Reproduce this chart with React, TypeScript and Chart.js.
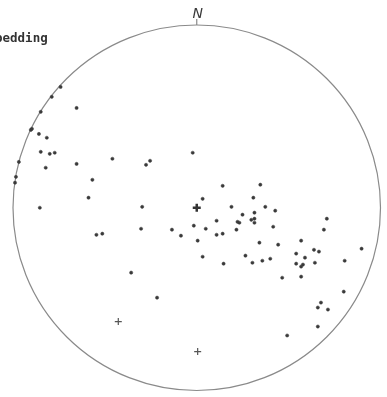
import React, { useEffect, useRef } from "react";
import { Chart, registerables } from "chart.js";

Chart.register(...registerables);

// Projected pole positions (unit-radius stereonet coordinates)
const poleX = [
  -0.741, -0.789, -0.849, -0.903, -0.897, -0.654, -0.859, -0.816, -0.849, -0.8,
  -0.773, -0.968, -0.822, -0.654, -0.459, -0.984, -0.989, -0.568, -0.589, -0.854,
  -0.254, -0.276, -0.022, 0.141, 0.032, -0.297, 0.189, 0.108, 0.222, 0.232,
  -0.303, -0.135, -0.016, 0.049, -0.514, -0.546, -0.086, 0.108, 0.141, 0.216,
  0.005, 0.032, 0.146, 0.346, 0.308, 0.373, 0.427, 0.249, 0.314, 0.297,
  0.314, 0.314, 0.416, 0.708, 0.692, 0.341, 0.443, 0.568, 0.265, 0.303,
  0.357, 0.4, 0.541, 0.638, 0.665, 0.589, 0.541, 0.568, 0.578, 0.643,
  0.568, 0.465, 0.805, 0.897, 0.8, 0.676, 0.659, 0.714, 0.659, 0.492,
  -0.357, -0.216,
];
const poleY = [
  0.661, 0.607, 0.525, 0.426, 0.432, 0.546, 0.404, 0.383, 0.306, 0.295,
  0.301, 0.251, 0.219, 0.24, 0.268, 0.169, 0.137, 0.153, 0.055, 0.0,
  0.257, 0.235, 0.301, 0.12, 0.049, 0.005, 0.005, -0.071, -0.077, -0.082,
  -0.115, -0.12, -0.098, -0.115, -0.142, -0.148, -0.153, -0.148, -0.142, -0.12,
  -0.18, -0.268, -0.306, 0.126, 0.055, 0.005, -0.016, -0.038, -0.027, -0.066,
  -0.06, -0.082, -0.104, -0.06, -0.12, -0.191, -0.202, -0.18, -0.262, -0.301,
  -0.29, -0.279, -0.251, -0.23, -0.24, -0.273, -0.306, -0.322, -0.311, -0.301,
  -0.377, -0.383, -0.29, -0.224, -0.459, -0.519, -0.546, -0.557, -0.65, -0.699,
  -0.355, -0.492,
];
// Cross symbols
const crossX = [-0.427, 0.005];
const crossY = [-0.623, -0.787];
// Net centre
const centerX = [0];
const centerY = [0];

const labelText = "bedding";
const northText = "N";

function zip(xs: number[], ys: number[]) {
  return xs.map((x, i) => ({ x, y: ys[i] }));
}

const netPlugin = {
  id: "net",
  beforeDatasetsDraw(chart: any) {
    const { ctx, scales } = chart;
    const xs = scales.x;
    const ys = scales.y;
    const cx = xs.getPixelForValue(0);
    const cy = ys.getPixelForValue(0);
    const rx = Math.abs(xs.getPixelForValue(1) - cx);
    const ry = Math.abs(ys.getPixelForValue(1) - cy);
    ctx.save();
    ctx.strokeStyle = "#8a8a8a";
    ctx.lineWidth = 1.2;
    ctx.beginPath();
    ctx.ellipse(cx, cy, rx, ry, 0, 0, Math.PI * 2);
    ctx.stroke();
    // north tick
    ctx.beginPath();
    ctx.moveTo(cx, cy - ry);
    ctx.lineTo(cx, cy - ry - 6);
    ctx.stroke();
    // N label
    ctx.fillStyle = "#3a3a3a";
    ctx.font = "italic 14px 'DejaVu Sans'";
    ctx.textAlign = "center";
    ctx.textBaseline = "alphabetic";
    ctx.fillText(northText, cx + 1, cy - ry - 7);
    // bedding label
    ctx.fillStyle = "#333";
    ctx.font = "bold 12.5px 'DejaVu Sans Mono'";
    ctx.textAlign = "left";
    ctx.fillText(labelText, -5, 42);
    ctx.restore();
  },
};

export default function App() {
  const ref = useRef<HTMLCanvasElement | null>(null);
  useEffect(() => {
    if (!ref.current) return;
    const chart = new Chart(ref.current, {
      type: "scatter",
      data: {
        datasets: [
          {
            label: "poles",
            data: zip(poleX, poleY),
            pointRadius: 1.6,
            pointBackgroundColor: "#3a3a3a",
            pointBorderColor: "#3a3a3a",
            pointBorderWidth: 0.5,
          },
          {
            label: "crosses",
            data: zip(crossX, crossY),
            pointStyle: "cross",
            pointRadius: 3.5,
            pointBorderColor: "#555",
            pointBorderWidth: 1.2,
          },
          {
            label: "centre",
            data: zip(centerX, centerY),
            pointStyle: "cross",
            pointRadius: 4,
            pointBorderColor: "#333",
            pointBorderWidth: 2.5,
          },
        ],
      },
      options: {
        responsive: false,
        animation: false,
        layout: { padding: { left: 13, right: 2, top: 25, bottom: 6 } },
        plugins: {
          legend: { display: false },
          tooltip: { enabled: false },
        },
        scales: {
          x: { type: "linear", min: -1, max: 1, display: false },
          y: { type: "linear", min: -1, max: 1, display: false },
        },
      },
      plugins: [netPlugin],
    });
    return () => chart.destroy();
  }, []);
  return (
    <div style={{ position: "fixed", left: 0, top: 0, width: 387, height: 397, background: "#fff" }}>
      <canvas ref={ref} width={387} height={397} />
    </div>
  );
}
